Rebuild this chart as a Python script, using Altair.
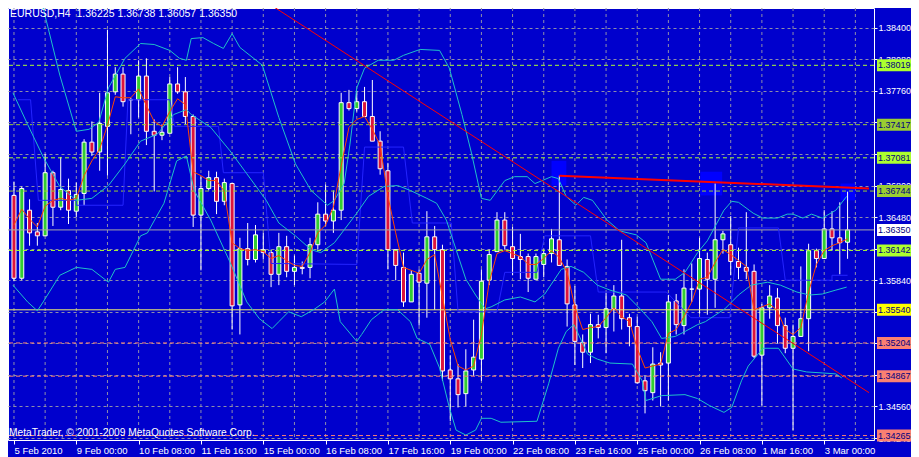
import json
import altair as alt
import pandas as pd

# ---------------- data ----------------
OPEN = [1.3670, 1.3586, 1.3655, 1.3633, 1.3629, 1.3693, 1.3658, 1.3675, 1.3654, 1.3672,
        1.3724, 1.3714, 1.3740, 1.3775, 1.3793, 1.3767, 1.3767, 1.3791, 1.3735, 1.3731,
        1.3733, 1.3783, 1.3775, 1.3750, 1.3650, 1.3677, 1.3688, 1.3664, 1.3682, 1.3559,
        1.3616, 1.3605, 1.3615, 1.3612, 1.3590, 1.3618, 1.3593, 1.3597, 1.3597, 1.3620,
        1.3651, 1.3644, 1.3655, 1.3764, 1.3758, 1.3765, 1.3750, 1.3725, 1.3695, 1.3615,
        1.3597, 1.3562, 1.3591, 1.3581, 1.3628, 1.3615, 1.3493, 1.3484, 1.3469, 1.3493,
        1.3504, 1.3584, 1.3613, 1.3645, 1.3618, 1.3608, 1.3608, 1.3585, 1.3600, 1.3611,
        1.3625, 1.3598, 1.3559, 1.3521, 1.3511, 1.3539, 1.3536, 1.3555, 1.3568, 1.3546,
        1.3537, 1.3482, 1.3470, 1.3500, 1.3500, 1.3563, 1.3538, 1.3575, 1.3575, 1.3605,
        1.3585, 1.3625, 1.3620, 1.3603, 1.3597, 1.3593, 1.3508, 1.3556, 1.3566, 1.3538,
        1.3515, 1.3527, 1.3545, 1.3614, 1.3606, 1.3636, 1.3627, 1.36225]
HIGH = [1.3684, 1.3679, 1.3666, 1.3642, 1.3712, 1.3695, 1.3709, 1.3687, 1.3683, 1.3727,
        1.3745, 1.3774, 1.3838, 1.3800, 1.3800, 1.3769, 1.3807, 1.3809, 1.3747, 1.3742,
        1.3790, 1.3800, 1.3790, 1.3752, 1.3689, 1.3695, 1.3694, 1.3687, 1.3682, 1.3627,
        1.3642, 1.3640, 1.3632, 1.3615, 1.3632, 1.3629, 1.3609, 1.3603, 1.3627, 1.3663,
        1.3681, 1.3675, 1.3774, 1.3777, 1.3776, 1.3780, 1.3787, 1.3735, 1.3703, 1.3615,
        1.3612, 1.3594, 1.3595, 1.3654, 1.3639, 1.3620, 1.3508, 1.3499, 1.3514, 1.3544,
        1.3595, 1.3615, 1.3653, 1.3653, 1.3638, 1.3631, 1.3611, 1.3611, 1.3615, 1.3636,
        1.3690, 1.3605, 1.3578, 1.3529, 1.3550, 1.3549, 1.3571, 1.3579, 1.3625, 1.3550,
        1.3547, 1.3487, 1.3516, 1.3511, 1.3569, 1.3570, 1.3595, 1.3601, 1.3627, 1.3612,
        1.3682, 1.3634, 1.3649, 1.3617, 1.3653, 1.3600, 1.3560, 1.3579, 1.3576, 1.3546,
        1.3539, 1.3598, 1.3621, 1.3616, 1.3655, 1.3654, 1.3663, 1.36738]
LOW = [1.3583, 1.3584, 1.3619, 1.3619, 1.3629, 1.3639, 1.3655, 1.3641, 1.3648, 1.3660,
       1.3710, 1.3695, 1.3690, 1.3772, 1.3760, 1.3732, 1.3749, 1.3721, 1.3674, 1.3726,
       1.3733, 1.3773, 1.3742, 1.3638, 1.3594, 1.3675, 1.3651, 1.3660, 1.3534, 1.3529,
       1.3599, 1.3602, 1.3605, 1.3577, 1.3579, 1.3587, 1.3579, 1.3590, 1.3586, 1.3615,
       1.3639, 1.3632, 1.3645, 1.3756, 1.3755, 1.3750, 1.3725, 1.3691, 1.3595, 1.3584,
       1.3557, 1.3562, 1.3538, 1.3546, 1.3554, 1.3482, 1.3441, 1.3455, 1.3456, 1.3487,
       1.3482, 1.3579, 1.3613, 1.3615, 1.3589, 1.3585, 1.3572, 1.3585, 1.3587, 1.3602,
       1.3599, 1.3537, 1.3498, 1.3495, 1.3500, 1.3525, 1.3510, 1.3532, 1.3534, 1.3517,
       1.3479, 1.3449, 1.3462, 1.3456, 1.3462, 1.3529, 1.3529, 1.3562, 1.3550, 1.3549,
       1.3556, 1.3611, 1.3589, 1.3585, 1.3585, 1.3505, 1.3457, 1.3545, 1.3520, 1.3510,
       1.3432, 1.3527, 1.3512, 1.3597, 1.3606, 1.3614, 1.3590, 1.36057]
CLOSE = [1.3586, 1.3677, 1.3632, 1.3629, 1.3693, 1.3658, 1.3676, 1.3655, 1.3671, 1.3724,
         1.3714, 1.3743, 1.3774, 1.3793, 1.3765, 1.3767, 1.3791, 1.3735, 1.3731, 1.3734,
         1.3783, 1.3775, 1.3750, 1.3650, 1.3677, 1.3688, 1.3664, 1.3683, 1.3558, 1.3616,
         1.3605, 1.3630, 1.3612, 1.3590, 1.3618, 1.3593, 1.3597, 1.3596, 1.3620, 1.3651,
         1.3644, 1.3655, 1.3764, 1.3758, 1.3765, 1.3750, 1.3725, 1.3697, 1.3615, 1.3599,
         1.3562, 1.3590, 1.3582, 1.3628, 1.3615, 1.3492, 1.3484, 1.3468, 1.3492, 1.3506,
         1.3583, 1.3610, 1.3645, 1.3619, 1.3606, 1.3605, 1.3586, 1.3608, 1.3611, 1.3626,
         1.3599, 1.3560, 1.3522, 1.3511, 1.3539, 1.3536, 1.3555, 1.3568, 1.3545, 1.3537,
         1.3480, 1.3472, 1.3499, 1.3498, 1.3562, 1.3539, 1.3576, 1.3575, 1.3606, 1.3585,
         1.3625, 1.3631, 1.3603, 1.3597, 1.3593, 1.3507, 1.3556, 1.3568, 1.3538, 1.3515,
         1.3527, 1.3545, 1.3614, 1.3606, 1.3636, 1.3627, 1.3622, 1.36350]
MA = [1.3640, 1.3656, 1.3646, 1.3638, 1.3659, 1.3665, 1.3667, 1.3665, 1.3667, 1.3690,
      1.3705, 1.3717, 1.3741, 1.3770, 1.3769, 1.3769, 1.3778, 1.3761, 1.3745, 1.3740,
      1.3755, 1.3768, 1.3762, 1.3694, 1.3690, 1.3685, 1.3685, 1.3674, 1.3622, 1.3616,
      1.3614, 1.3615, 1.3613, 1.3606, 1.3609, 1.3604, 1.3599, 1.3598, 1.3612, 1.3632,
      1.3640, 1.3658, 1.3700, 1.3739, 1.3747, 1.3750, 1.3737, 1.3721, 1.3669, 1.3632,
      1.3597, 1.3594, 1.3591, 1.3605, 1.3610, 1.3567, 1.3524, 1.3497, 1.3493, 1.3497,
      1.3529, 1.3582, 1.3611, 1.3614, 1.3611, 1.3608, 1.3600, 1.3600, 1.3606, 1.3614,
      1.3607, 1.3592, 1.3557, 1.3534, 1.3536, 1.3537, 1.3546, 1.3556, 1.3547, 1.3542,
      1.3515, 1.3495, 1.3497, 1.3499, 1.3530, 1.3534, 1.3547, 1.3562, 1.3585, 1.3587,
      1.3602, 1.3615, 1.3610, 1.3604, 1.3598, 1.3554, 1.3557, 1.3560, 1.3553, 1.3534,
      1.3529, 1.3536, 1.3572, 1.3600, 1.3614, 1.3619, 1.3622, 1.3626]

BB_UPPER = [[3.25, 1.3874], [3.75, 1.3860], [5.88, 1.3792], [8.0, 1.3735], [9.63, 1.3737],
            [10.88, 1.3744], [12.13, 1.3779], [14.25, 1.3809], [16.25, 1.3824], [18.0, 1.3823],
            [20.0, 1.3817], [21.25, 1.3809], [22.13, 1.3807], [22.75, 1.3829], [24.25, 1.3830],
            [25.63, 1.3824], [26.88, 1.3819], [28.0, 1.3834], [29.0, 1.3820], [31.88, 1.3802],
            [34.0, 1.3749], [36.13, 1.3702], [38.13, 1.3675], [40.25, 1.3660], [41.13, 1.3665],
            [42.38, 1.3682], [43.13, 1.3722], [44.0, 1.3779], [45.0, 1.3799], [46.75, 1.3807],
            [48.75, 1.3807], [50.0, 1.3812], [52.13, 1.3818], [54.63, 1.3817], [55.88, 1.3799],
            [57.5, 1.3752], [58.75, 1.3712], [60.0, 1.3667], [61.13, 1.3665], [63.0, 1.3685],
            [64.25, 1.3689], [65.88, 1.3689], [66.88, 1.3682], [69.0, 1.3689], [69.88, 1.3687],
            [70.88, 1.3669], [72.13, 1.3660], [73.13, 1.3668], [74.25, 1.3665], [76.13, 1.3645],
            [77.75, 1.3634], [79.88, 1.3630], [81.13, 1.3622], [83.0, 1.3585], [84.88, 1.3585],
            [86.13, 1.3592], [87.75, 1.3612], [89.0, 1.3624], [91.13, 1.3655], [92.13, 1.3664],
            [93.0, 1.3663], [94.88, 1.3652], [96.13, 1.3647], [98.0, 1.3647], [99.25, 1.3651],
            [100.0, 1.3651], [101.25, 1.3647], [102.38, 1.3651], [103.75, 1.3647], [105.5, 1.3655],
            [106.88, 1.3669]]
BB_MIDDLE = [[-0.13, 1.3774], [1.75, 1.3742], [3.75, 1.3709], [5.88, 1.3679], [8.0, 1.3665],
             [10.0, 1.3667], [12.13, 1.3680], [14.25, 1.3702], [16.25, 1.3725], [18.38, 1.3732],
             [20.5, 1.3752], [22.13, 1.3757], [22.75, 1.3752], [25.25, 1.3739], [27.75, 1.3715],
             [29.88, 1.3692], [32.38, 1.3665], [34.0, 1.3642], [36.13, 1.3629], [38.13, 1.3615],
             [39.38, 1.3612], [41.13, 1.3622], [44.0, 1.3652], [45.5, 1.3669], [47.5, 1.3679],
             [49.25, 1.3680], [50.88, 1.3675], [53.0, 1.3667], [54.25, 1.3662], [55.5, 1.3645],
             [56.75, 1.3615], [58.0, 1.3585], [59.25, 1.3569], [60.5, 1.3555], [61.25, 1.3557],
             [63.0, 1.3564], [65.0, 1.3567], [66.88, 1.3562], [68.13, 1.3570], [70.25, 1.3595],
             [71.5, 1.3598], [73.13, 1.3592], [74.88, 1.3579], [76.5, 1.3574], [78.63, 1.3569],
             [79.88, 1.3559], [81.88, 1.3542], [83.13, 1.3525], [84.88, 1.3527], [86.13, 1.3532],
             [87.75, 1.3539], [88.75, 1.3542], [91.25, 1.3555], [93.0, 1.3569], [94.63, 1.3579],
             [96.75, 1.3582], [98.38, 1.3579], [100.5, 1.3572], [102.13, 1.3569], [103.75, 1.3570],
             [105.5, 1.3574], [106.88, 1.3577]]
BB_LOWER = [[-0.13, 1.3579], [1.75, 1.3562], [3.0, 1.3553], [3.75, 1.3562], [5.88, 1.3589],
            [8.0, 1.3597], [10.0, 1.3595], [12.13, 1.3582], [13.0, 1.3595], [14.25, 1.3597],
            [16.25, 1.3629], [17.13, 1.3632], [19.25, 1.3662], [20.88, 1.3705], [22.13, 1.3710],
            [23.13, 1.3675], [25.25, 1.3645], [27.75, 1.3602], [29.88, 1.3562], [31.5, 1.3545],
            [33.13, 1.3535], [34.0, 1.3542], [35.25, 1.3552], [36.88, 1.3547], [38.63, 1.3555],
            [39.88, 1.3562], [41.13, 1.3575], [41.88, 1.3542], [44.0, 1.3522], [44.63, 1.3529],
            [45.88, 1.3544], [47.5, 1.3554], [49.25, 1.3554], [50.88, 1.3542], [51.75, 1.3525],
            [53.38, 1.3519], [54.63, 1.3495], [55.88, 1.3455], [56.75, 1.3432], [58.0, 1.3427],
            [59.25, 1.3432], [60.0, 1.3444], [61.25, 1.3444], [62.5, 1.3440], [67.13, 1.3441],
            [68.63, 1.3479], [69.88, 1.3515], [70.88, 1.3532], [71.88, 1.3539], [73.63, 1.3509],
            [74.88, 1.3504], [76.5, 1.3500], [79.38, 1.3499], [80.63, 1.3482], [81.13, 1.3462],
            [83.13, 1.3467], [86.13, 1.3468], [87.75, 1.3464], [89.25, 1.3457], [91.13, 1.3450],
            [92.13, 1.3455], [93.38, 1.3482], [94.25, 1.3497], [96.13, 1.3515], [98.13, 1.3515],
            [100.0, 1.3494], [101.75, 1.3491], [103.75, 1.3490], [105.5, 1.3489], [106.25, 1.3485]]
STEP_LINE = [[0.5, 1.3767], [2.13, 1.3767], [3.13, 1.3665], [8.0, 1.3665], [8.0, 1.3660],
             [14.0, 1.3660], [14.63, 1.3767], [20.0, 1.3767], [20.63, 1.3740], [26.25, 1.3740],
             [26.88, 1.3693], [32.0, 1.3693], [33.0, 1.3601], [44.0, 1.3600], [45.0, 1.3719],
             [50.0, 1.3719], [51.13, 1.3642], [56.13, 1.3642], [57.0, 1.3552], [62.0, 1.3552],
             [63.0, 1.3592], [67.13, 1.3592], [68.13, 1.3629], [74.0, 1.3629], [75.0, 1.3572],
             [83.75, 1.3572], [86.88, 1.3546], [91.88, 1.3546], [93.0, 1.3637], [98.13, 1.3637],
             [99.0, 1.3584], [105.0, 1.3584], [105.0, 1.3589], [107.0, 1.3589]]
TREND_DOWN = [[33.38, 1.3861], [109.75, 1.3470]]
TREND_FLAT = [[70.0, 1.3690], [109.75, 1.3677]]
HILITE_X0 = [69.0, 88.1, 106.1]
HILITE_X1 = [70.9, 90.9, 108.0]
HILITE_Y0 = [1.3680, 1.3670, 1.3665]
HILITE_Y1 = [1.3705, 1.3694, 1.3682]

LEVELS_GREENYELLOW = [1.38019, 1.37081, 1.36142]
LEVELS_YELLOWGREEN = [1.37417, 1.36744]
LEVELS_SALMON = [1.35204, 1.34867, 1.34265]
LEVEL_YELLOW = [1.35540]
LEVEL_BID = [1.36350]

PRICE_TICKS = [1.3424, 1.3456, 1.3488, 1.3520, 1.3552, 1.3584, 1.3616, 1.3648,
               1.3680, 1.3712, 1.3744, 1.3776, 1.3808, 1.3840]
# scale labels that sit fully under a price-level tag in the reference
COVERED_TICK_LABELS = ["1.37440", "1.37120", "1.36160", "1.35520", "1.35200", "1.34880"]
TIME_TICKS = [0, 8, 16, 24, 32, 40, 48, 56, 64, 72, 80, 88, 96, 104]
TIME_LABELS = ["5 Feb 2010", "9 Feb 00:00", "10 Feb 08:00", "11 Feb 16:00", "15 Feb 00:00",
               "16 Feb 08:00", "17 Feb 16:00", "19 Feb 00:00", "22 Feb 08:00", "23 Feb 16:00",
               "25 Feb 00:00", "26 Feb 08:00", "1 Mar 16:00", "3 Mar 00:00"]
GRID_BARS = list(range(0, 109, 4))
TITLE = "EURUSD,H4\u00a0 1.36225 1.36738 1.36057 1.36350"
COPYRIGHT = "MetaTrader, \u00a9 2001-2009 MetaQuotes Software Corp."

# ---------------- style ----------------
BG = "#0000CD"
GRID = "#8E8EAA"
BULL = "#32CD32"
BEAR = "#DC143C"
BAND = "#20C0C8"
FONT = "Liberation Sans"
FS_X = 9.5
FS_Y = 9
W, H = 866, 432

xscale = alt.Scale(domain=[-0.125, 109.75], nice=False, zero=False)
yscale = alt.Scale(domain=[1.3422, 1.3860], nice=False, zero=False)

label_expr = json.dumps(TIME_LABELS) + "[round(datum.value / 8)]"
xaxis = alt.Axis(values=TIME_TICKS, labelExpr=label_expr, labelAlign="left", labelBaseline="top",
                 labelColor="white", tickColor="white", tickSize=4, labelPadding=1,
                 labelFlush=False, labelOverlap=False, domain=False, grid=False,
                 labelFont=FONT, labelFontSize=FS_X)
ylabel_expr = ("indexof(" + json.dumps(COVERED_TICK_LABELS) +
               ", datum.label) >= 0 ? '' : datum.label")
yaxis = alt.Axis(orient="right", values=PRICE_TICKS, format=".5f", labelExpr=ylabel_expr,
                 labelColor="white", tickColor="white", tickSize=3, labelPadding=1,
                 domain=False, grid=True, gridColor=GRID, gridDash=[3, 3], gridWidth=1,
                 labelOverlap=False, labelFont=FONT, labelFontSize=FS_Y)


def X(field):
    return alt.X(field, type="quantitative", scale=xscale, axis=xaxis, title=None)


def Y(field):
    return alt.Y(field, type="quantitative", scale=yscale, axis=yaxis, title=None)


candles = pd.DataFrame({"bar": list(range(len(OPEN))), "open": OPEN, "high": HIGH,
                        "low": LOW, "close": CLOSE})
candles["dir"] = ["up" if c > o else ("down" if c < o else "flat")
                  for o, c in zip(OPEN, CLOSE)]


def series(points, name):
    return pd.DataFrame({"bar": [p[0] for p in points], "price": [p[1] for p in points],
                         "line": name, "idx": list(range(len(points)))})


grid_v = alt.Chart(pd.DataFrame({"bar": GRID_BARS})).mark_rule(
    color=GRID, strokeDash=[3, 3], strokeWidth=1).encode(x=X("bar"))

hilite = alt.Chart(pd.DataFrame({"x0": HILITE_X0, "x1": HILITE_X1, "y0": HILITE_Y0,
                                 "y1": HILITE_Y1})).mark_rect(color="#0000FF", clip=True).encode(
    x=X("x0"), x2="x1", y=Y("y0"), y2="y1")

wicks = alt.Chart(candles).mark_rule(color="white", strokeWidth=1, clip=True).encode(
    x=X("bar"), y=Y("low"), y2="high")

bodies = alt.Chart(candles).mark_bar(size=4, stroke="white", strokeWidth=1, clip=True).encode(
    x=X("bar"), y=Y("open"), y2="close",
    color=alt.Color("dir:N", scale=alt.Scale(domain=["up", "down", "flat"],
                                             range=[BULL, BEAR, "#FFFF80"]), legend=None))


def level_lines(prices, color, dash, width=1):
    kw = dict(color=color, strokeWidth=width)
    if dash:
        kw["strokeDash"] = dash
    return alt.Chart(pd.DataFrame({"price": prices})).mark_rule(**kw).encode(y=Y("price"))


def level_labels(prices, box):
    df = pd.DataFrame({"price": prices})
    b = alt.Chart(df).mark_tick(orient="horizontal", size=36, thickness=12, color=box,
                                opacity=1).encode(x=alt.value(W + 21), y=Y("price"))
    t = alt.Chart(df).mark_text(align="left", baseline="middle", color="#000080", font=FONT,
                                fontSize=FS_Y).encode(
        x=alt.value(W + 4), y=Y("price"), text=alt.Text("price:Q", format=".5f"))
    return [b, t]


lines_lv = [
    level_lines(LEVELS_GREENYELLOW, "#ADFF2F", [4, 3]),
    level_lines(LEVELS_YELLOWGREEN, "#9ACD32", [4, 3]),
    level_lines(LEVELS_SALMON, "#FA8072", [4, 3]),
    level_lines(LEVEL_YELLOW, "#F0F070", None),
    level_lines(LEVEL_BID, "#A8A8A8", None),
]

step = alt.Chart(series(STEP_LINE, "step")).mark_line(color="#2424FF", strokeWidth=1,
                                                       clip=True).encode(
    x=X("bar"), y=Y("price"), order="idx:Q")

bands_df = pd.concat([series(BB_UPPER, "upper"), series(BB_MIDDLE, "middle"),
                      series(BB_LOWER, "lower")])
bands = alt.Chart(bands_df).mark_line(color=BAND, strokeWidth=1, clip=True).encode(
    x=X("bar"), y=Y("price"), detail="line:N", order="idx:Q")

ma = alt.Chart(pd.DataFrame({"bar": list(range(len(MA))), "price": MA})).mark_line(
    color="#FF4500", strokeWidth=1, clip=True).encode(x=X("bar"), y=Y("price"))

trend1 = alt.Chart(series(TREND_DOWN, "t1")).mark_line(color="#FF0000", strokeWidth=1,
                                                       clip=True).encode(
    x=X("bar"), y=Y("price"), order="idx:Q")
trend2 = alt.Chart(series(TREND_FLAT, "t2")).mark_line(color="#FF0000", strokeWidth=2,
                                                       clip=True).encode(
    x=X("bar"), y=Y("price"), order="idx:Q")

labels = (level_labels(LEVELS_GREENYELLOW, "#ADFF2F") + level_labels(LEVELS_YELLOWGREEN, "#9ACD32")
          + level_labels(LEVELS_SALMON, "#FA8072") + level_labels(LEVEL_YELLOW, "#FFFF00")
          + level_labels(LEVEL_BID, "#FFFFFF"))

title = alt.Chart(pd.DataFrame({"t": [TITLE]})).mark_text(
    align="left", baseline="top", color="white", font=FONT, fontSize=10.5).encode(
    x=alt.value(2), y=alt.value(1), text="t:N")
copyright_ = alt.Chart(pd.DataFrame({"t": [COPYRIGHT]})).mark_text(
    align="left", baseline="alphabetic", color="white", font=FONT, fontSize=10.2).encode(
    x=alt.value(1), y=alt.value(H - 4), text="t:N")

chart = alt.layer(
    grid_v, hilite, wicks, bodies, *lines_lv, step, bands, ma, trend1, trend2, *labels,
    title, copyright_
).properties(
    width=W, height=H, background=BG,
    padding={"left": 0, "top": 0, "right": 37, "bottom": 17},
    autosize=alt.AutoSizeParams(type="none"),
).configure_view(stroke="white", strokeWidth=1)

chart.save("out.html", embed_options={"renderer": "svg", "actions": False})
